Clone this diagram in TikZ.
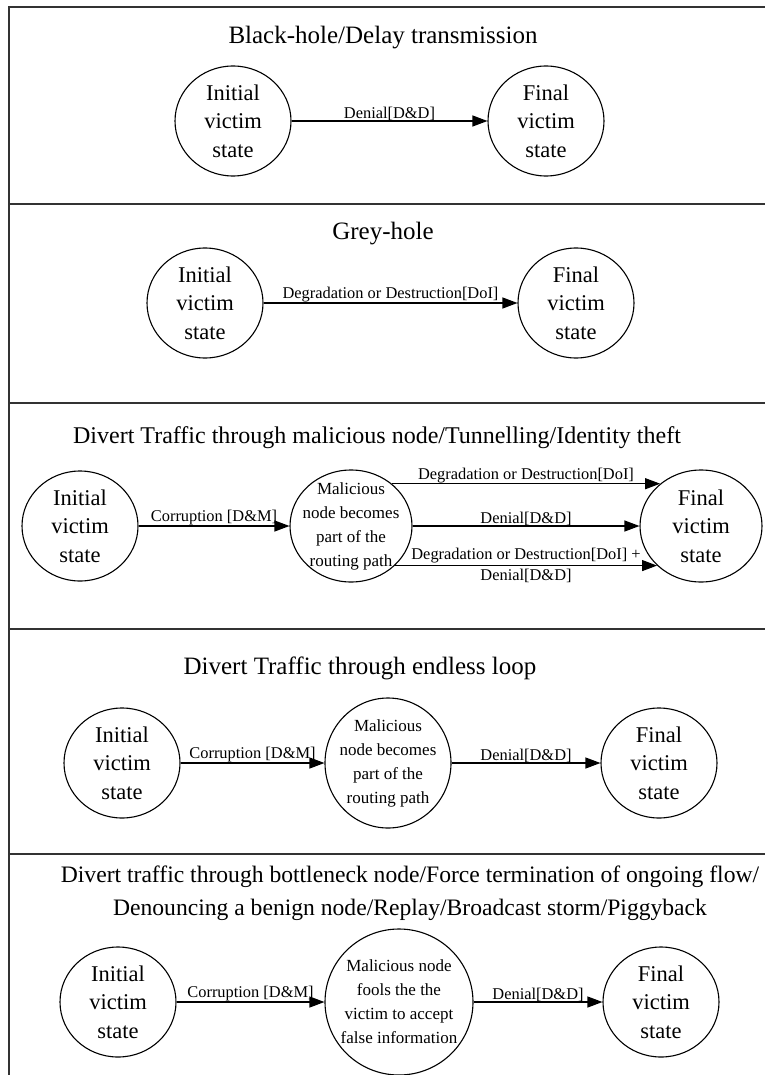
\documentclass[tikz,border=0pt]{standalone}
\usepackage{fontspec}
\setmainfont{Liberation Serif}
\usetikzlibrary{shapes.geometric,arrows.meta}

\begin{document}
\begin{tikzpicture}[
  x=1pt, y=-1pt,
  vstate/.style={ellipse,draw,line width=1.1pt,minimum width=116pt,minimum height=110pt,
    inner sep=-2pt,align=center,font=\fontsize{22.5}{28.5}\selectfont},
  mnode/.style={vstate,inner sep=-9pt,minimum width=122pt,minimum height=112pt,
    font=\fontsize{17}{24}\selectfont},
  headline/.style={align=center,font=\fontsize{25}{33}\selectfont},
  lbl/.style={inner sep=0pt,font=\fontsize{16.4}{18}\selectfont},
  arr/.style={-{Triangle[length=15pt,width=11pt]},line width=1.1pt},
  sepline/.style={line width=1.6pt,draw=black!80}
]
\useasboundingbox (0,0) rectangle (765,1075);

% frame and separators
\draw[sepline] (9,1075) -- (9,7) -- (765,7);
\foreach \y in {204,403,629,854}
  \draw[sepline] (9,\y) -- (765,\y);

% black-hole
\node[headline] (t1) at (383,38) {Black-hole/Delay transmission};
\node[vstate] (i1) at (233,121) {Initial\\victim\\state};
\node[vstate] (f1) at (546,121) {Final\\victim\\state};
\draw[arr] (i1) -- node[lbl,above]{Denial[D\&D]} (f1);

% grey-hole
\node[headline] (t2) at (383,234) {Grey-hole};
\node[vstate] (i2) at (205,303) {Initial\\victim\\state};
\node[vstate] (f2) at (576,303) {Final\\victim\\state};
\draw[arr] (i2) -- node[lbl,above]{Degradation or Destruction[DoI]} (f2);

% malicious node
\node[headline,font=\fontsize{24}{30}\selectfont] (t3) at (377,438) {Divert Traffic through malicious node/Tunnelling/Identity theft};
\node[vstate] (i3) at (80,526) {Initial\\victim\\state};
\node[mnode] (m3) at (351,526) {Malicious\\node becomes\\part of the\\routing path};
\node[vstate,minimum width=122pt,minimum height=112pt] (f3) at (701,526) {Final\\victim\\state};
\draw[arr] (i3) -- node[lbl,above]{Corruption [D\&M]} (m3);
\draw[arr] (m3.46) -- node[lbl,above]{Degradation or Destruction[DoI]} (f3.134);
\draw[arr] (m3) -- node[lbl,above]{Denial[D\&D]} (f3);
\draw[arr] (m3.-42) -- node[lbl,above=2pt]{Degradation or Destruction[DoI] +}
  node[lbl,below=3pt]{Denial[D\&D]} (f3.-138);

% endless loop
\node[headline] (t4) at (360,668) {Divert Traffic through endless loop};
\node[vstate] (i4) at (122,763) {Initial\\victim\\state};
\node[mnode,minimum width=126pt,minimum height=130pt] (m4) at (388,763) {Malicious\\node becomes\\part of the\\routing path};
\node[vstate] (f4) at (659,763) {Final\\victim\\state};
\draw[arr] (i4) -- node[lbl,above]{Corruption [D\&M]} (m4);
\draw[arr] (m4) -- node[lbl,above]{Denial[D\&D]} (f4);

% false information
\node[headline,font=\fontsize{23.6}{33}\selectfont] (t5) at (410,893) {Divert traffic through bottleneck node/Force termination of ongoing flow/\\Denouncing a benign node/Replay/Broadcast storm/Piggyback};
\node[vstate] (i5) at (118,1002) {Initial\\victim\\state};
\node[mnode,minimum width=148pt,minimum height=146pt] (m5) at (399,1002) {Malicious node\\fools the the\\victim to accept\\false information};
\node[vstate] (f5) at (661,1002) {Final\\victim\\state};
\draw[arr] (i5) -- node[lbl,above]{Corruption [D\&M]} (m5);
\draw[arr] (m5) -- node[lbl,above]{Denial[D\&D]} (f5);
\end{tikzpicture}
\end{document}
